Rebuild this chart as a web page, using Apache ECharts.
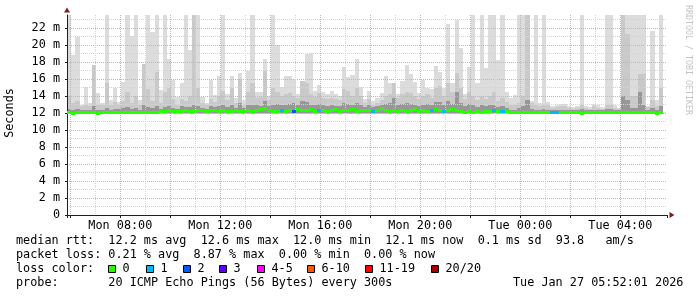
<!DOCTYPE html>
<html><head><meta charset="utf-8">
<script src="https://cdn.jsdelivr.net/npm/echarts@6/dist/echarts.min.js"></script>
<style>html,body{margin:0;padding:0;background:#fff}#c{width:697px;height:297px}</style>
</head><body><div id="c"></div>
<script>
// ---- time frame (UTC) ----
const startTime = Date.UTC(2026, 0, 26, 5, 52, 1);
const endTime = Date.UTC(2026, 0, 27, 5, 52, 1);
const binMinutes = 10;
const yMax = 23.53;
const minRtt = 11.85;

// ---- smoke: highest ping per 10-minute bin (ms) ----
const maxRtt = [
 23.5,18.8,21.0,13.0,15.1,13.2,17.6,14.4,13.2,23.5,13.5,15.0,13.3,15.6,23.5,21.1,23.5,13.5,17.8,23.5,21.5,23.5,14.7,23.5,18.4,15.9,13.9,15.5,23.5,19.4,23.5,23.5,13.9,13.2,15.9,14.1,
 16.4,23.5,14.2,16.4,13.8,16.7,13.5,17.0,23.5,14.5,14.5,18.4,14.0,23.5,20.0,15.1,16.4,16.4,16.0,14.2,15.8,18.9,19.1,14.6,15.3,14.5,14.2,14.6,14.2,14.0,17.4,16.2,16.5,18.4,15.1,13.6,
 14.6,13.4,13.8,14.3,16.3,15.5,15.5,14.2,15.8,17.7,16.6,15.6,14.4,15.9,15.0,14.8,17.5,16.8,15.0,22.5,15.5,23.0,19.6,14.2,17.4,23.5,15.5,23.5,17.3,23.5,23.5,18.2,23.5,14.5,13.8,14.1,
 23.5,23.5,23.5,13.4,23.5,13.2,23.5,13.3,12.8,12.9,13.1,13.1,12.8,12.7,12.8,23.5,12.8,12.7,13.1,12.9,12.7,23.5,23.5,12.9,12.6,23.5,23.5,23.5,23.5,23.5,23.5,12.8,21.6,13.5,23.5,null
];
// ---- smoke: upper-middle ping band top (ms) ----
const midRtt = [
 14.0,13.2,13.4,12.8,13.0,12.8,17.6,13.0,12.9,15.5,13.0,13.3,13.0,13.4,14.5,13.2,14.0,13.0,17.8,14.8,13.4,16.8,13.2,14.5,15.0,13.6,13.0,13.6,13.4,14.0,23.5,15.0,13.2,12.9,13.6,13.3,
 14.0,14.6,13.5,15.0,13.2,16.0,13.0,14.5,15.5,13.8,13.9,17.0,13.5,15.0,14.5,14.0,14.2,14.3,14.0,13.8,15.8,15.5,14.2,13.9,14.3,13.8,13.6,13.8,13.6,13.5,14.8,14.6,14.0,15.0,14.0,13.2,
 13.6,13.0,13.2,13.5,14.0,14.2,15.5,13.8,14.2,14.5,14.3,14.0,13.6,14.0,14.2,13.8,15.0,15.2,14.0,15.5,14.5,16.7,15.0,13.6,14.5,14.0,13.5,14.0,13.6,14.0,14.5,13.4,13.8,13.3,12.9,12.9,
 13.2,14.0,23.5,13.2,13.0,12.8,13.0,12.9,12.6,12.7,12.8,12.8,12.6,12.5,12.6,13.0,12.6,12.5,12.8,12.6,12.5,13.0,13.0,12.6,12.5,23.5,21.3,14.0,14.0,16.6,16.6,12.7,13.5,12.8,15.0,null
];
// ---- smoke: inner (dark) band top (ms) ----
const innerRtt = [
 12.5,12.4,12.5,12.4,12.4,12.4,12.8,12.4,12.4,12.6,12.4,12.5,12.5,12.6,12.7,12.5,12.6,12.4,12.9,12.7,12.6,12.8,12.5,12.7,12.8,12.6,12.5,12.8,12.7,12.7,13.0,12.8,12.6,12.5,12.8,12.7,
 12.8,13.0,12.7,13.0,12.6,13.2,12.6,12.9,13.0,12.9,12.8,13.4,12.8,13.0,13.1,12.9,13.0,13.1,13.2,12.9,13.4,13.3,13.0,12.9,13.1,12.9,12.8,12.9,12.8,12.8,13.2,13.1,12.9,13.2,12.9,12.7,
 12.9,12.7,12.8,12.9,13.1,13.2,13.8,12.9,13.1,13.2,13.1,13.0,12.8,13.0,13.1,12.9,13.3,13.3,13.0,13.4,13.1,14.5,13.2,12.8,13.1,12.9,12.7,12.9,12.8,12.9,13.0,12.7,12.8,12.6,12.4,12.4,
 12.6,12.8,13.5,12.5,12.4,12.3,12.5,12.4,12.3,12.3,12.4,12.4,12.3,12.3,12.3,12.5,12.3,12.3,12.4,12.3,12.3,12.5,12.5,12.3,12.3,14.0,13.5,12.6,12.6,14.5,13.0,12.4,12.6,12.4,12.8,null
];
// ---- median rtt (ms) ----
const medianRtt = [
 12.1,12.0,12.1,12.1,12.1,12.1,12.1,12.0,12.1,12.1,12.1,12.1,12.1,12.1,12.1,12.1,12.1,12.1,12.1,12.1,12.1,12.1,12.2,12.2,12.3,12.2,12.2,12.2,12.3,12.2,12.2,12.3,12.3,12.2,12.3,12.3,
 12.2,12.3,12.2,12.2,12.3,12.2,12.2,12.3,12.2,12.3,12.4,12.5,12.3,12.2,12.2,12.3,12.2,12.3,12.2,12.4,12.3,12.3,12.4,12.2,12.3,12.3,12.2,12.3,12.4,12.2,12.3,12.3,12.4,12.2,12.3,12.3,
 12.3,12.2,12.3,12.5,12.3,12.2,12.3,12.2,12.3,12.2,12.3,12.4,12.2,12.3,12.2,12.3,12.4,12.3,12.2,12.3,12.4,12.3,12.2,12.1,12.2,12.1,12.2,12.1,12.2,12.2,12.3,12.2,12.2,12.2,12.1,12.1,
 12.1,12.1,12.1,12.1,12.1,12.1,12.1,12.1,12.1,12.1,12.1,12.1,12.1,12.1,12.1,12.0,12.1,12.1,12.1,12.1,12.1,12.1,12.1,12.1,12.1,12.1,12.1,12.1,12.1,12.1,12.1,12.1,12.1,12.0,12.1,null
];
// ---- packet loss (bins with losses, count of lost pings out of 20) ----
const lossBins = [51, 54, 60, 73, 87, 90, 102, 104, 116, 117];
const lossCounts = [1, 2, 1, 1, 1, 1, 1, 1, 1, 1];

// ---- legend ----
const lossLabels = ['0', '1', '2', '3', '4-5', '6-10', '11-19', '20/20'];
const lossColors = ['#26ff00', '#00b8ff', '#0059ff', '#5e00ff', '#ff00ff', '#ff5500', '#ff0000', '#a00000'];
const statLines = [
  'median rtt:  12.2 ms avg  12.6 ms max  12.0 ms min  12.1 ms now  0.1 ms sd  93.8   am/s',
  'packet loss: 0.21 % avg  8.87 % max  0.00 % min  0.00 % now',
  'loss color:',
  'probe:       20 ICMP Echo Pings (56 Bytes) every 300s'
];
const stampText = 'Tue Jan 27 05:52:01 2026';
const yAxisName = 'Seconds';
const watermark = 'RRDTOOL / TOBI OETIKER';
const dayNames = ['Sun', 'Mon', 'Tue', 'Wed', 'Thu', 'Fri', 'Sat'];

// ---- build ----
const binMs = binMinutes * 60000;
const HOUR = 3600000;
const MONO = '"DejaVu Sans Mono", monospace';
const FS = 11.8;

function lossIndex(n) {
  if (n <= 3) return n;
  if (n <= 5) return 4;
  if (n <= 10) return 5;
  if (n <= 19) return 6;
  return 7;
}
const lossPerBin = medianRtt.map(() => 0);
lossBins.forEach((b, k) => { lossPerBin[b] = lossCounts[k]; });

function band(tops, bottom) {
  const out = [];
  tops.forEach((v, i) => { if (v != null) out.push([startTime + i * binMs, bottom, v]); });
  return out;
}
function bandRender(color) {
  return function (params, api) {
    const t = api.value(0);
    const a = api.coord([t, api.value(2)]);
    const b = api.coord([t + binMs, api.value(1)]);
    const x = Math.round(a[0]);
    const y = Math.round(a[1]);
    return { type: 'rect', shape: { x: x, y: y, width: Math.round(b[0]) - x, height: Math.round(b[1]) - y },
             style: { fill: color } };
  };
}
const medData = [];
medianRtt.forEach((v, i) => { if (v != null) medData.push([startTime + i * binMs, v, lossIndex(lossPerBin[i])]); });

function timeLabel(v) {
  const d = new Date(v);
  const h = d.getUTCHours(), m = d.getUTCMinutes(), s = d.getUTCSeconds();
  if (m || s || h % 4) return '';
  return dayNames[d.getUTCDay()] + ' ' + String(h).padStart(2, '0') + ':00';
}

const graphics = [
  { type: 'text', x: 9.5, y: 113, rotation: Math.PI / 2,
    style: { text: yAxisName, font: FS + 'px ' + MONO, fill: '#000', align: 'center', verticalAlign: 'middle' } },
  { type: 'text', x: 688, y: 60, rotation: -Math.PI / 2,
    style: { text: watermark, font: '8.3px ' + MONO, fill: '#c4c4c4', align: 'center', verticalAlign: 'middle' } },
  { type: 'text', x: 513, y: 283,
    style: { text: stampText, font: FS + 'px ' + MONO, fill: '#000', align: 'left', verticalAlign: 'middle' } }
];
const lineY = [241, 255, 269, 283];
statLines.forEach((s, i) => {
  graphics.push({ type: 'text', x: 16, y: lineY[i],
    style: { text: s, font: FS + 'px ' + MONO, fill: '#000', align: 'left', verticalAlign: 'middle' } });
});
const boxX = [108, 146, 183, 219, 257, 307, 365, 431];
lossLabels.forEach((lab, i) => {
  graphics.push({ type: 'rect', shape: { x: boxX[i] + 0.5, y: 265.5, width: 7, height: 7 },
    style: { fill: lossColors[i], stroke: '#000', lineWidth: 1 } });
  graphics.push({ type: 'text', x: boxX[i] + 14.5, y: 269,
    style: { text: lab, font: FS + 'px ' + MONO, fill: '#000', align: 'left', verticalAlign: 'middle' } });
});

const GRAY = '#d4d4d4';
const RED = '#e9a3a3';
const option = {
  useUTC: true,
  animation: false,
  backgroundColor: '#fff',
  grid: { left: 67, right: 30, top: 15, bottom: 82, containLabel: false },
  xAxis: [{
    type: 'time', min: startTime, max: endTime, splitNumber: 24, minInterval: HOUR, maxInterval: HOUR, z: 5,
    axisLine: { show: true, lineStyle: { color: '#1f1f1f', width: 1 } },
    axisTick: { show: false },
    axisLabel: { formatter: timeLabel, color: '#000', fontFamily: MONO, fontSize: FS, margin: 5,
                 showMinLabel: false, showMaxLabel: false, hideOverlap: false },
    splitLine: { show: true, showMinLine: false, showMaxLine: false,
                 lineStyle: { color: GRAY, type: [1, 1], width: 1 } }
  }, {
    type: 'time', position: 'bottom', min: startTime, max: endTime, splitNumber: 10,
    minInterval: 2.5 * HOUR, maxInterval: 2.5 * HOUR, z: 6,
    axisLine: { show: true, lineStyle: { color: '#801f1f', width: 0 },
                symbol: ['none', 'triangle'], symbolSize: [6, 5], symbolOffset: [0, 5] },
    axisTick: { show: true, length: 3, lineStyle: { color: '#1f1f1f' } },
    axisLabel: { show: false },
    splitLine: { show: true, showMinLine: false, showMaxLine: false,
                 lineStyle: { color: RED, type: [1, 1], width: 1 } }
  }],
  yAxis: [{
    type: 'value', min: 0, max: yMax, interval: 2, z: 5,
    axisLine: { show: true, lineStyle: { color: '#1f1f1f', width: 1 } },
    axisTick: { show: true, length: 2, lineStyle: { color: '#1f1f1f' } },
    axisLabel: { formatter: v => (Math.abs(v - Math.round(v)) > 1e-6 ? '' : (v === 0 ? '0' : v + ' m')),
                 color: '#000', fontFamily: MONO, fontSize: FS, margin: 7, showMaxLabel: false },
    splitLine: { show: true, showMinLine: false, showMaxLine: false,
                 lineStyle: { color: RED, type: [1, 1], width: 1 } }
  }, {
    type: 'value', position: 'left', min: 0, max: yMax, interval: 1, z: 4,
    axisLine: { show: true, lineStyle: { color: '#801f1f', width: 0 },
                symbol: ['none', 'triangle'], symbolSize: [6, 5], symbolOffset: [0, 5] },
    axisTick: { show: false }, axisLabel: { show: false },
    splitLine: { show: true, showMinLine: false, showMaxLine: false,
                 lineStyle: { color: GRAY, type: [1, 1], width: 1 } }
  }],
  series: [
    { type: 'custom', name: 'smoke max', z: 1, xAxisIndex: 0, yAxisIndex: 0, encode: { x: 0, y: [1, 2] },
      data: band(maxRtt, minRtt), renderItem: bandRender('#dcdcdc') },
    { type: 'custom', name: 'smoke mid', z: 1, xAxisIndex: 0, yAxisIndex: 0, encode: { x: 0, y: [1, 2] },
      data: band(midRtt, minRtt + 0.05), renderItem: bandRender('#c9c9c9') },
    { type: 'custom', name: 'smoke inner', z: 1, xAxisIndex: 0, yAxisIndex: 0, encode: { x: 0, y: [1, 2] },
      data: band(innerRtt, minRtt + 0.15), renderItem: bandRender('#979797') },
    { type: 'custom', name: 'median', z: 10, xAxisIndex: 0, yAxisIndex: 0, encode: { x: 0, y: 1 },
      data: medData,
      renderItem: function (params, api) {
        const t = api.value(0);
        const a = api.coord([t, api.value(1)]);
        const b = api.coord([t + binMs, api.value(1)]);
        const x = Math.round(a[0]);
        return { type: 'rect', shape: { x: x, y: Math.round(a[1] - 1.5), width: Math.round(b[0]) - x, height: 3 },
                 style: { fill: lossColors[api.value(2)] } };
      } }
  ],
  graphic: graphics
};
const chart = echarts.init(document.getElementById('c'), null, { renderer: 'canvas', width: 697, height: 297 });
chart.setOption(option);
</script>
</body></html>
